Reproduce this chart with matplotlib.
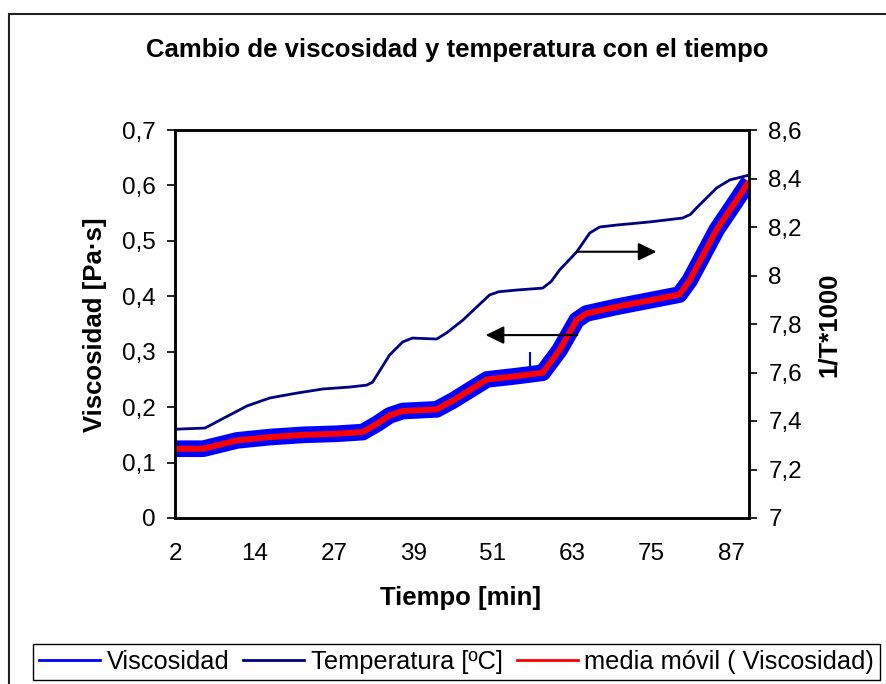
import numpy as np
import matplotlib.pyplot as plt
from matplotlib.patches import Rectangle
from matplotlib.lines import Line2D

plt.rcParams['font.family'] = ['Liberation Sans', 'DejaVu Sans']

# Viscosidad (Pa·s) vs tiempo (min)
visc_t = [2.0, 6.3, 11.5, 16.5, 21.6, 26.7, 30.7, 32.9, 34.8, 36.8, 42.0, 44.5,
          47.1, 49.7, 54.2, 58.2, 60.8, 63.4, 64.9, 69.5, 79.1, 80.7, 84.8, 87.2, 89.75]
visc_v = [0.125, 0.125, 0.140, 0.146, 0.150, 0.152, 0.155, 0.170, 0.185, 0.193, 0.196, 0.212,
          0.231, 0.250, 0.256, 0.262, 0.303, 0.357, 0.369, 0.381, 0.403, 0.429, 0.520, 0.562, 0.607]

# media movil (coincide con el centro de la banda azul)
media_t = visc_t
media_v = visc_v

# pico aislado en la viscosidad
pico_t = 56.2
pico_base = 0.262
pico_v = 0.300

# 1/T*1000 vs tiempo
temp_t = [2.0, 6.6, 8.9, 13.0, 16.5, 20.6, 24.6, 28.7, 31.3, 32.2, 32.9, 34.8, 36.8, 38.3,
          42.0, 43.5, 46.0, 50.1, 51.5, 54.2, 58.2, 59.5, 60.8, 63.4, 65.4, 66.9, 69.5,
          74.6, 79.6, 80.8, 81.7, 84.8, 86.8, 89.75]
temp_v = [7.366, 7.371, 7.404, 7.462, 7.495, 7.515, 7.532, 7.540, 7.548, 7.560, 7.590,
          7.672, 7.726, 7.742, 7.738, 7.763, 7.816, 7.920, 7.933, 7.940, 7.948, 7.975,
          8.023, 8.097, 8.175, 8.200, 8.208, 8.221, 8.237, 8.252, 8.278, 8.361, 8.394, 8.414]

x_labels = ['2', '14', '27', '39', '51', '63', '75', '87']
y_left = [0, 0.1, 0.2, 0.3, 0.4, 0.5, 0.6, 0.7]
y_left_labels = ['0', '0,1', '0,2', '0,3', '0,4', '0,5', '0,6', '0,7']
y_right = [7, 7.2, 7.4, 7.6, 7.8, 8, 8.2, 8.4, 8.6]
y_right_labels = ['7', '7,2', '7,4', '7,6', '7,8', '8', '8,2', '8,4', '8,6']

fig = plt.figure(figsize=(8.86, 6.84), dpi=100)
ax = fig.add_axes([175/886, 1-518/684, (749-175)/886, (518-130)/684])
ax2 = ax.twinx()

# series
ax.plot(visc_t, visc_v, color='#0000FF', lw=12, solid_capstyle='butt',
        solid_joinstyle='round', zorder=2)
ax.vlines(pico_t, pico_base, pico_v, color='#0000FF', lw=1.5, zorder=2)
ax.plot(media_t, media_v, color='#FF0000', lw=4.3, solid_capstyle='butt',
        solid_joinstyle='round', zorder=3)
ax2.plot(temp_t, temp_v, color='#000080', lw=2, solid_joinstyle='round')

ax.set_xlim(2, 89.75)
ax.set_ylim(0, 0.7)
ax2.set_ylim(7, 8.6)

ax.set_xticks(np.linspace(2, 87, len(x_labels)))
ax.set_xticklabels(x_labels)
ax.set_yticks(y_left)
ax.set_yticklabels(y_left_labels)
ax2.set_yticks(y_right)
ax2.set_yticklabels(y_right_labels)

ax.tick_params(axis='x', length=0, pad=18, labelsize=17.5)
ax.tick_params(axis='y', length=6, width=1.2, pad=8, labelsize=17.5)
ax2.tick_params(axis='y', length=6, width=1.2, pad=8, labelsize=17.5)

for a in (ax, ax2):
    for s in a.spines.values():
        s.set_linewidth(1.8)

# flechas
ax2.annotate('', xy=(75.6, 8.098), xytext=(63.4, 8.098),
             arrowprops=dict(arrowstyle='-|>,head_length=0.55,head_width=0.27',
                             color='black', lw=1.5, mutation_scale=20,
                             shrinkA=0, shrinkB=0))
ax.annotate('', xy=(49.5, 0.330), xytext=(63.5, 0.330),
            arrowprops=dict(arrowstyle='-|>,head_length=0.55,head_width=0.27',
                            color='black', lw=1.5, mutation_scale=20,
                            shrinkA=0, shrinkB=0))

# textos
fig.text(457/886, 1-50/684, 'Cambio de viscosidad y temperatura con el tiempo',
         ha='center', va='center', fontsize=18.5, fontweight='bold')
fig.text(95/886, 1-325/684, 'Viscosidad [Pa·s]', rotation=90,
         ha='center', va='center', fontsize=18.5, fontweight='bold')
fig.text(829/886, 1-325/684, '1/T*1000', rotation=90,
         ha='center', va='center', fontsize=18.5, fontweight='bold')
fig.text(461/886, 1-598/684, 'Tiempo [min]',
         ha='center', va='center', fontsize=18.5, fontweight='bold')

# leyenda
handles = [Line2D([], [], color='#0000FF', lw=2),
           Line2D([], [], color='#000080', lw=2),
           Line2D([], [], color='#FF0000', lw=2)]
labels = ['Viscosidad', 'Temperatura [ºC]', 'media móvil ( Viscosidad)']
leg = fig.legend(handles, labels, loc='center', bbox_to_anchor=(456.5/886, 1-662/684),
                 ncol=3, frameon=True, fancybox=False, edgecolor='black', framealpha=1,
                 fontsize=18.3, handlelength=2.4, handletextpad=0.25, columnspacing=0.55,
                 borderpad=0.25)
leg.get_frame().set_linewidth(1.0)

# marco exterior
fig.patches.append(Rectangle((9/886, -0.1), 1.2, 1-14/684+0.1, transform=fig.transFigure,
                             fill=False, edgecolor='#222222', lw=1.5, clip_on=False))

plt.savefig('out.png', dpi=100)
